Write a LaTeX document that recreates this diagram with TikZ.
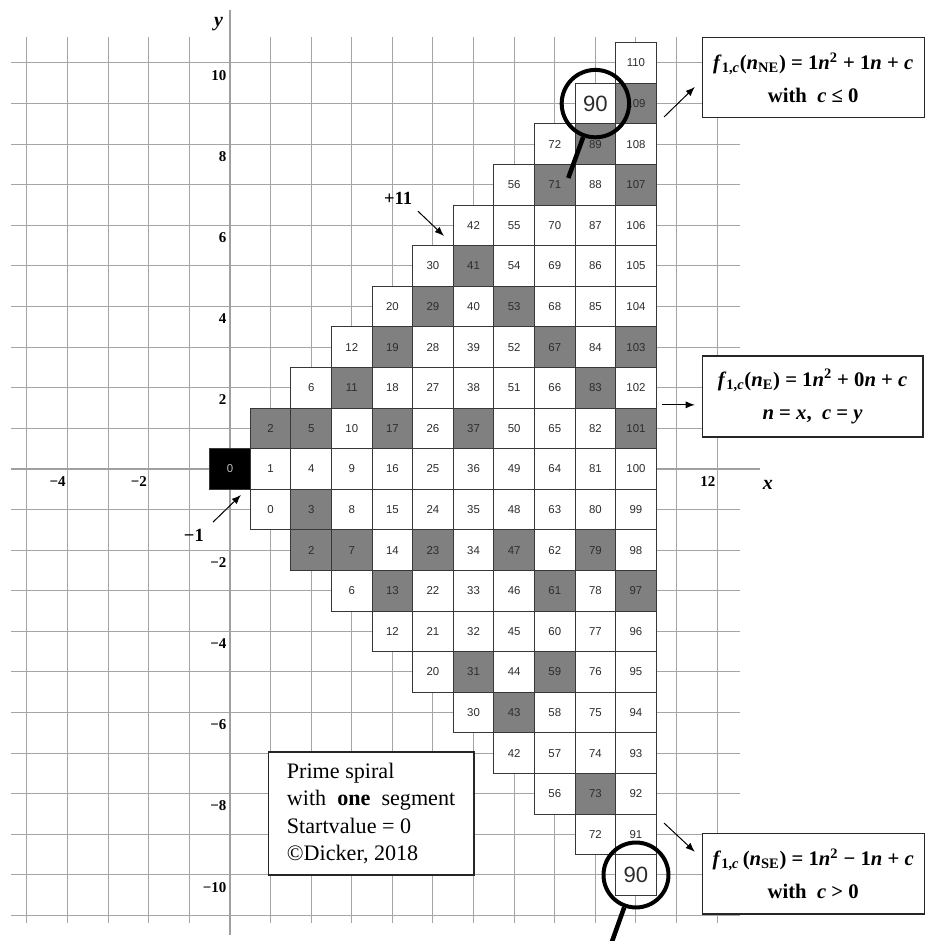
\documentclass[tikz,border=0pt]{standalone}
\usepackage{fontspec}
\setmainfont{Liberation Serif}
\setsansfont{Liberation Sans}
\usetikzlibrary{arrows.meta}
\definecolor{gridc}{RGB}{165,165,165}
\definecolor{axisc}{RGB}{160,160,160}
\definecolor{primec}{RGB}{128,128,128}
\definecolor{numc}{RGB}{45,45,45}
\definecolor{zerotext}{RGB}{190,190,190}
\definecolor{cellline}{RGB}{55,55,55}
\newcommand\smallnum{\sffamily\fontsize{8}{8}\selectfont}
\newcommand\bignum{\sffamily\fontsize{15.5}{15.5}\selectfont}
\begin{document}
\begin{tikzpicture}[x=1cm,y=1cm,
  gridline/.style={draw=gridc, line width=0.7pt},
  axisline/.style={draw=axisc, line width=1.5pt},
  cell/.style={draw=cellline, line width=0.6pt, minimum size=1cm, inner sep=0pt, outer sep=0pt},
  axlab/.style={font=\bfseries\fontsize{10.5}{10.5}\selectfont, inner sep=0pt},
  axname/.style={font=\bfseries\itshape\fontsize{14}{14}\selectfont, inner sep=0pt},
  steplab/.style={font=\bfseries\fontsize{13}{13}\selectfont, inner sep=0pt},
  mag/.style={circle, draw=black, line width=2.8pt, inner sep=0pt},
  handle/.style={draw=black, line width=3.2pt},
  ptr/.style={draw=black, line width=0.7pt, -{Latex[length=6.5pt,width=5pt]}},
  formbox/.style={draw=black!85, line width=0.9pt, fill=white, align=center, inner sep=0pt,
    font=\bfseries\fontsize{14.5}{23}\selectfont},
  infobox/.style={draw=black!85, line width=0.9pt, fill=white, align=left, inner sep=0pt,
    font=\fontsize{15.5}{19.3}\selectfont}
]
\clip (-5.665,-11.626) rectangle (17.143,11.552);
\fill[white] (-5.665,-11.626) rectangle (17.143,11.552);
% background grid
\foreach \i in {-11,...,10} \draw[gridline] (-5.39,\i) -- (12.56,\i);
\foreach \i in {-5,...,12} \draw[gridline] (\i,-11.18) -- (\i,10.64);
% axes
\draw[axisline] (-5.39,0) -- (13.05,0);
\draw[axisline] (0,-11.48) -- (0,11.3);
% axis labels
\foreach \v/\t in {-4/−4,-2/−2,12/12}
  \node[axlab, anchor=east] (xl\v) at ({\v-0.04},-0.32) {\t};
\foreach \v/\t in {10/10,8/8,6/6,4/4,2/2,-2/−2,-4/−4,-6/−6,-8/−8,-10/−10}
  \node[axlab, anchor=east] (yl\v) at (-0.08,{\v-0.3}) {\t};
\node[axname] (xname) at (13.25,-0.39) {x};
\node[axname] (yname) at (-0.28,10.97) {y};
% primes
\foreach \p in {2,3,5,7,11,13,17,19,23,29,31,37,41,43,47,53,59,61,67,71,73,79,83,89,97,101,103,107,109}
  {\expandafter\gdef\csname isprime\p\endcsname{}}
% spiral cells
\foreach \y in {-10,...,10}{
  \pgfmathtruncatemacro\xs{abs(\y)}
  \foreach \x in {\xs,...,10}{
    \pgfmathtruncatemacro\v{\x*\x+\y}
    \def\cf{white}\def\ct{numc}\def\cfnt{\smallnum}
    \ifcsname isprime\v\endcsname\def\cf{primec}\fi
    \ifnum\v=90 \def\cfnt{\bignum}\fi
    \ifnum\x=0 \def\cf{black}\def\ct{zerotext}\fi
    \node[cell, fill=\cf, text=\ct, font=\cfnt] (c\x n\y) at (\x,\y) {\v};
  }
}
% magnifiers
\node[mag, minimum size=1.66cm] (m1) at (9,9) {};
\node[mag, minimum size=1.6cm] (m2) at (10,-10) {};
\coordinate (h1) at (8.333,7.168);
\coordinate (h2) at (9.37,-11.75);
\draw[handle] (m1.250) -- (h1);
\draw[handle] (m2.250) -- (h2);
% step labels
\node[steplab] (p11) at (4.14,6.67) {+11};
\coordinate (p11s) at (4.63,6.35);
\coordinate (p11e) at (5.27,5.74);
\draw[ptr] (p11s) -- (p11e);
\node[steplab] (m1l) at (-0.89,-1.63) {−1};
\coordinate (m1s) at (-0.42,-1.31);
\coordinate (m1e) at (0.27,-0.64);
\draw[ptr] (m1s) -- (m1e);
% formula boxes
\node[formbox, minimum width=5.47cm, minimum height=1.97cm] (b1) at (14.365,9.635)
  {\textit{f}\textsubscript{1,\textit{c}}(\textit{n}\textsubscript{NE}) = 1\textit{n}\textsuperscript{2} + 1\textit{n} + \textit{c}\\
   with~~\textit{c}~≤~0};
\node[formbox, minimum width=5.44cm, minimum height=1.99cm] (b2) at (14.35,1.785)
  {\textit{f}\textsubscript{1,\textit{c}}(\textit{n}\textsubscript{E}) = 1\textit{n}\textsuperscript{2} + 0\textit{n} + \textit{c}\\
   \textit{n} = \textit{x},~~\textit{c} = \textit{y}};
\node[formbox, minimum width=5.47cm, minimum height=1.99cm] (b3) at (14.365,-9.965)
  {\textit{f}\textsubscript{1,\textit{c}}\,(\textit{n}\textsubscript{SE}) = 1\textit{n}\textsuperscript{2} − 1\textit{n} + \textit{c}\\
   with~~\textit{c}~>~0};
\coordinate (a1s) at (10.69,8.67);
\coordinate (a1e) at (11.45,9.41);
\draw[ptr] (a1s) -- (a1e);
\coordinate (a2s) at (10.64,1.58);
\coordinate (a2e) at (11.45,1.58);
\draw[ptr] (a2s) -- (a2e);
\coordinate (a3s) at (10.69,-8.72);
\coordinate (a3e) at (11.45,-9.43);
\draw[ptr] (a3s) -- (a3e);
% info box
\node[infobox, minimum width=5.07cm, minimum height=3.03cm] (info) at (3.475,-8.485)
  {Prime spiral\\with~~\textbf{one}~~segment\\Startvalue = 0\\©Dicker, 2018};
\end{tikzpicture}
\end{document}
